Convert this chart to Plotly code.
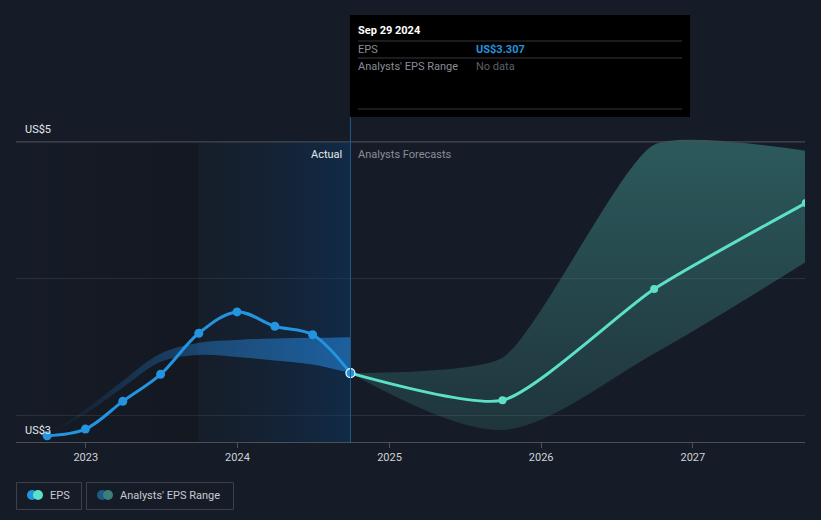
import plotly.graph_objects as go

# ---------------- data ----------------
past_dates = ["2022-09-30", "2022-12-31", "2023-03-31", "2023-06-30", "2023-09-30",
              "2023-12-31", "2024-03-31", "2024-06-30", "2024-09-29"]
past_eps = [2.848, 2.897, 3.100, 3.298, 3.599, 3.755, 3.650, 3.588, 3.307]

past_range_high = [2.848, 3.04, 3.25, 3.45, 3.53, 3.55, 3.56, 3.565, 3.57]
past_range_low = [2.848, 3.01, 3.20, 3.39, 3.44, 3.425, 3.40, 3.37, 3.307]

fc_dates = ["2024-09-29", "2025-09-30", "2026-09-30", "2027-09-30"]
fc_eps = [3.307, 3.108, 3.923, 4.553]
fc_high = [3.307, 3.42, 4.98, 4.935]
fc_low = [3.307, 2.89, 3.45, 4.12]

ytick_vals = [3, 4, 5]
ylabels = {"US$5": 5, "US$3": 3}

actual_date = "2024-09-29"
region_start = "2023-09-29"
x_range = ["2022-07-17", "2027-09-28"]
y_range = [2.8022, 6.04]

BG = "#161c27"
FONT = "Roboto"

# pixel helpers (plot area: x 16..805, y 0..442)
def xp(px):
    return (px - 16) / 789.0

def yp(py):
    return (442 - py) / 442.0

fig = go.Figure()

# background shading: historic region
fig.add_trace(go.Scatter(
    x=[x_range[0], region_start, region_start, x_range[0]],
    y=[y_range[0], y_range[0], 5, 5], fill="toself", mode="none",
    fillgradient=dict(type="horizontal",
                      colorscale=[[0, "rgba(0,0,0,0)"], [1, "rgba(0,0,0,0.16)"]]),
    hoverinfo="skip", showlegend=False))
fig.add_trace(go.Scatter(
    x=[region_start, actual_date, actual_date, region_start],
    y=[y_range[0], y_range[0], 5, 5], fill="toself", mode="none",
    fillgradient=dict(type="horizontal",
                      colorscale=[[0, "rgba(20,40,60,0.15)"], [1, "rgba(10,60,110,0.45)"]]),
    hoverinfo="skip", showlegend=False))

# past analyst range band
fig.add_trace(go.Scatter(x=past_dates, y=past_range_low, mode="lines",
                         line=dict(width=0, shape="spline"), hoverinfo="skip",
                         showlegend=False))
fig.add_trace(go.Scatter(x=past_dates, y=past_range_high, mode="lines",
                         line=dict(width=0, shape="spline"), fill="tonexty",
                         fillgradient=dict(type="horizontal",
                                           colorscale=[[0, "rgba(35,125,205,0.0)"],
                                                       [0.5, "rgba(35,125,205,0.45)"],
                                                       [1, "rgba(35,125,205,0.65)"]]),
                         hoverinfo="skip", showlegend=False))

# forecast range band
fig.add_trace(go.Scatter(x=fc_dates, y=fc_low, mode="lines",
                         line=dict(width=0, shape="spline", smoothing=0.9),
                         hoverinfo="skip", showlegend=False))
fig.add_trace(go.Scatter(x=fc_dates, y=fc_high, mode="lines",
                         line=dict(width=0, shape="spline", smoothing=0.55), fill="tonexty",
                         fillgradient=dict(type="vertical",
                                           colorscale=[[0, "rgba(62,140,135,0.22)"],
                                                       [1, "rgba(62,140,135,0.55)"]]),
                         hoverinfo="skip", showlegend=False))

# forecast line
fig.add_trace(go.Scatter(x=fc_dates, y=fc_eps, mode="lines+markers",
                         line=dict(color="#5de0c8", width=3, shape="spline", smoothing=0.6),
                         marker=dict(size=8, color="#5de0c8"),
                         hoverinfo="skip", showlegend=False))

# past EPS line
fig.add_trace(go.Scatter(x=past_dates, y=past_eps, mode="lines+markers",
                         line=dict(color="#2394df", width=3, shape="spline"),
                         marker=dict(size=9, color="#2394df"),
                         hoverinfo="skip", showlegend=False))

# highlighted current point
fig.add_trace(go.Scatter(x=[past_dates[-1]], y=[past_eps[-1]], mode="markers",
                         marker=dict(size=9, color="#2394df",
                                     line=dict(color="#ffffff", width=1.2)),
                         hoverinfo="skip", showlegend=False))

shapes = []
# brighter top gridline
shapes.append(dict(type="line", xref="paper", yref="y", x0=0, x1=1, y0=5, y1=5,
                   line=dict(color="#464b54", width=1), layer="above"))
# vertical line at actual date
shapes.append(dict(type="line", xref="x", yref="paper", x0=actual_date, x1=actual_date,
                   y0=0, y1=yp(117), line=dict(color="#1f5a86", width=1)))
# tooltip box
shapes.append(dict(type="rect", xref="paper", yref="paper", x0=xp(350), x1=xp(690),
                   y0=yp(117), y1=yp(15), fillcolor="#000000", line=dict(width=0)))
for py in (41, 58, 109):
    shapes.append(dict(type="line", xref="paper", yref="paper", x0=xp(358), x1=xp(682),
                       y0=yp(py), y1=yp(py), line=dict(color="#34373c", width=1)))
# legend boxes
shapes.append(dict(type="rect", xref="paper", yref="paper", x0=xp(16.5), x1=xp(81.5),
                   y0=yp(509.5), y1=yp(482.5), line=dict(color="#3b4049", width=1),
                   fillcolor="rgba(0,0,0,0)"))
shapes.append(dict(type="rect", xref="paper", yref="paper", x0=xp(86.5), x1=xp(233.5),
                   y0=yp(509.5), y1=yp(482.5), line=dict(color="#3b4049", width=1),
                   fillcolor="rgba(0,0,0,0)"))
def circle(cx, cy, r, color):
    return dict(type="circle", xref="paper", yref="paper",
                x0=xp(cx - r), x1=xp(cx + r), y0=yp(cy + r), y1=yp(cy - r),
                fillcolor=color, line=dict(width=0))
shapes.append(circle(32, 495, 5, "#2394df"))
shapes.append(circle(38, 495, 5, "#5de0c8"))
shapes.append(circle(102, 495, 5, "#1f5a86"))
shapes.append(circle(108, 495, 5, "#3b7f7b"))

annotations = []
def text(px, py, s, color, size=11, anchor="left", bold=False):
    dx = -2 if anchor == "left" else 2
    annotations.append(dict(xref="paper", yref="paper", x=xp(px + dx), y=yp(py), text=s,
                            showarrow=False, xanchor=anchor, yanchor="middle",
                            font=dict(family=FONT, size=size, color=color,
                                      weight="bold" if bold else "normal")))

for lab, v in ylabels.items():
    py = 130 if v == 5 else 430
    text(25, py, lab, "#e6e8eb", 11)
text(342, 154, "Actual", "#e6e8eb", 11, anchor="right")
text(358, 154, "Analysts Forecasts", "#8a8e95", 11)
text(358, 31, "Sep 29 2024", "#ffffff", 11, bold=True)
text(358, 49, "EPS", "#8a8e95", 11)
text(476, 49, "US$3.307", "#2394df", 11, bold=True)
text(358, 66, "Analysts' EPS Range", "#8a8e95", 11)
text(476, 66, "No data", "#5c6067", 11)
text(50, 495, "EPS", "#c8cbd0", 11)
text(120, 495, "Analysts' EPS Range", "#c8cbd0", 11)

fig.update_layout(
    width=821, height=520,
    margin=dict(l=16, r=16, t=0, b=78),
    paper_bgcolor=BG, plot_bgcolor=BG,
    font=dict(family=FONT, size=11, color="#cfd2d6"),
    showlegend=False, hovermode=False,
    shapes=shapes, annotations=annotations,
    xaxis=dict(type="date", range=x_range, tick0="2023-01-01", dtick="M12",
               tickformat="%Y", showgrid=False, zeroline=False,
               ticks="outside", ticklen=5, tickcolor="#4a4f58",
               showline=True, linecolor="#4a4f58", linewidth=1,
               tickfont=dict(family=FONT, size=11, color="#cfd2d6")),
    yaxis=dict(range=y_range, tickvals=ytick_vals, showticklabels=False,
               showgrid=True, gridcolor="#2b303a", gridwidth=1, zeroline=False,
               fixedrange=True),
)

fig.write_html("out.html", config={"displayModeBar": False},
               post_script="document.body.style.margin='0';document.body.style.padding='0';"
                           "document.body.style.background='" + BG + "';")
